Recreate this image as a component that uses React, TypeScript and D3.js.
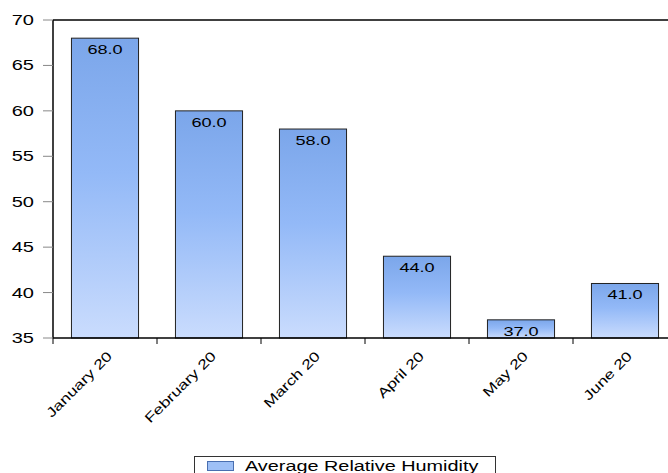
import React from "react";
import * as d3 from "d3";

const categories = ["January 20", "February 20", "March 20", "April 20", "May 20", "June 20"];
const humidity = [68.0, 60.0, 58.0, 44.0, 37.0, 41.0];
const yTicks = [35, 40, 45, 50, 55, 60, 65, 70];
const seriesName = "Average Relative Humidity";

export default function App() {
  const W = 668, H = 473;
  const left = 53, top = 20, bottom = 338, rightClip = 668;
  const x = d3.scaleBand<string>().domain(categories).range([left, 677]).paddingInner(0.355).paddingOuter(0.1775);
  const y = d3.scaleLinear().domain([35, 70]).range([bottom, top]);
  const step = x.step();
  const font = "Arial, 'Liberation Sans', sans-serif";
  return (
    <svg width={W} height={H} style={{ position: "absolute", left: 0, top: 0, background: "#fff" }}>
      <defs>
        <linearGradient id="barGrad" x1="0" y1="0" x2="0" y2="1">
          <stop offset="0%" stopColor="#7ba6ea" />
          <stop offset="45%" stopColor="#93b9f7" />
          <stop offset="100%" stopColor="#cadcfd" />
        </linearGradient>
        <clipPath id="plotClip"><rect x={0} y={0} width={rightClip} height={H} /></clipPath>
      </defs>
      <g clipPath="url(#plotClip)">
        {categories.map((c, i) => {
          const v = humidity[i];
          const bx = x(c)!;
          const by = y(v);
          return (
            <g key={c}>
              <rect x={bx} y={by} width={x.bandwidth()} height={bottom - by} fill="url(#barGrad)" stroke="#222" strokeWidth={1} />
              <text transform={`translate(${bx + x.bandwidth() / 2},${by + 16}) scale(1.45,1)`} textAnchor="middle" fontFamily={font} fontSize={12.5} fill="#000">{v.toFixed(1)}</text>
            </g>
          );
        })}
      </g>
      {/* frame lines */}
      <line x1={left} x2={rightClip} y1={top} y2={top} stroke="#000" strokeWidth={1.5} />
      <line x1={left} x2={left} y1={top} y2={bottom} stroke="#000" strokeWidth={1.5} />
      <line x1={left} x2={rightClip} y1={bottom} y2={bottom} stroke="#000" strokeWidth={1.5} />
      {/* y ticks */}
      {yTicks.map((t) => (
        <g key={t}>
          <line x1={43} x2={left} y1={y(t)} y2={y(t)} stroke="#888" strokeWidth={1} />
          <text transform={`translate(34,${y(t) + 5}) scale(1.38,1)`} textAnchor="end" fontFamily={font} fontSize={14.5} fill="#000">{t}</text>
        </g>
      ))}
      {/* x ticks between categories */}
      {categories.map((c, i) => (
        <line key={c} x1={left + step * i} x2={left + step * i} y1={bottom} y2={bottom + 6} stroke="#000" strokeWidth={1} />
      ))}
      {categories.map((c) => {
        const cx = x(c)! + x.bandwidth() / 2 + 8;
        const cy = bottom + 19;
        return (
          <text key={c} transform={`translate(${cx},${cy}) rotate(-45) scale(1.3,1)`} textAnchor="end" fontFamily={font} fontSize={13.5} fill="#000">{c}</text>
        );
      })}
      {/* legend */}
      <rect x={194.5} y={456.5} width={301} height={22} fill="#fff" stroke="#333" strokeWidth={1} />
      <rect x={207.5} y={461.5} width={26} height={9} fill="#9ec0f6" stroke="#4a6fb0" strokeWidth={1} />
      <text transform="translate(245,471) scale(1.28,1)" fontFamily={font} fontSize={15.5} fill="#000">{seriesName}</text>
    </svg>
  );
}
